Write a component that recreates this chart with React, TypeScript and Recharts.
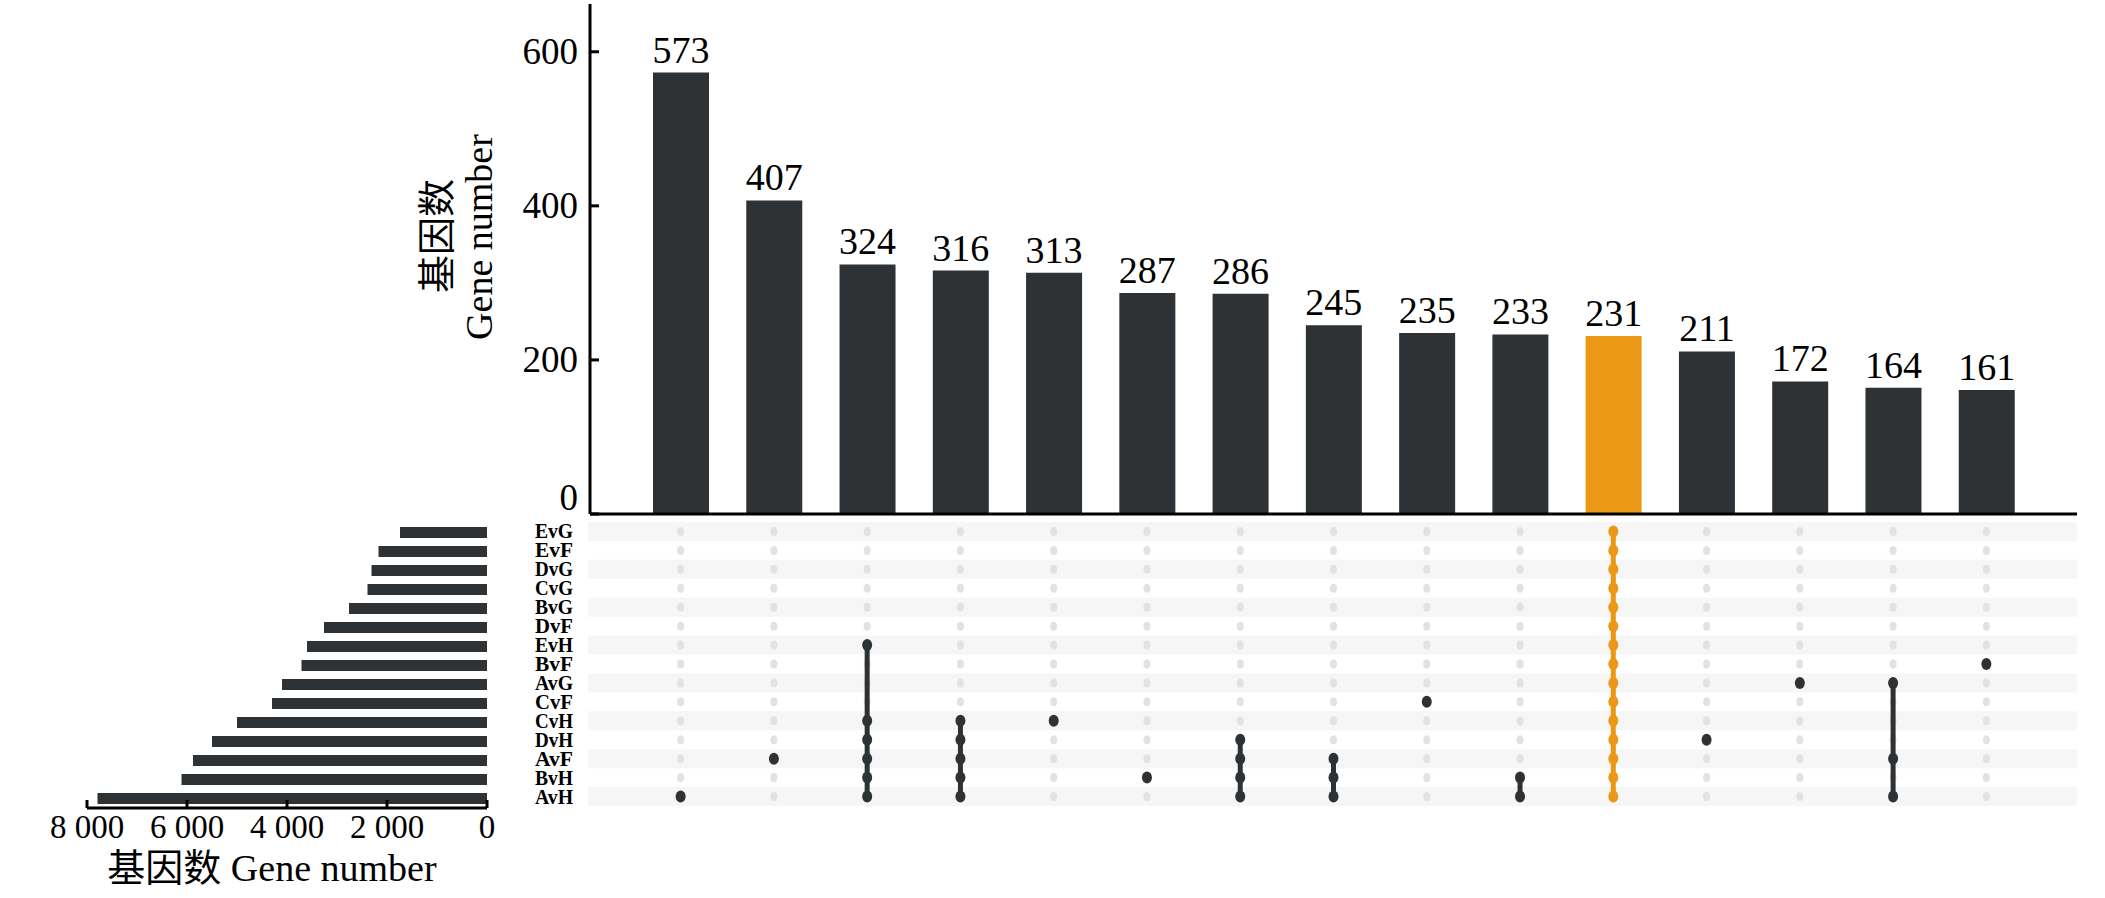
import React from 'react'
import { BarChart, Bar, XAxis, YAxis, Cell, LabelList, ScatterChart, Scatter, ReferenceArea } from 'recharts'

// sets, top to bottom in the matrix
const setNames = ['EvG', 'EvF', 'DvG', 'CvG', 'BvG', 'DvF', 'EvH', 'BvF', 'AvG', 'CvF', 'CvH', 'DvH', 'AvF', 'BvH', 'AvH']
const setSizes = [1740, 2170, 2310, 2390, 2760, 3260, 3600, 3710, 4100, 4300, 5000, 5500, 5880, 6110, 7790]
const setSizeTicks = [0, 2000, 4000, 6000, 8000]

// intersections, left to right
const intersectionSizes = [573, 407, 324, 316, 313, 287, 286, 245, 235, 233, 231, 211, 172, 164, 161]
const intersectionSets = [
  ['AvH'],
  ['AvF'],
  ['EvH', 'CvH', 'DvH', 'AvF', 'BvH', 'AvH'],
  ['CvH', 'DvH', 'AvF', 'BvH', 'AvH'],
  ['CvH'],
  ['BvH'],
  ['DvH', 'AvF', 'BvH', 'AvH'],
  ['AvF', 'BvH', 'AvH'],
  ['CvF'],
  ['BvH', 'AvH'],
  setNames,
  ['DvH'],
  ['AvG'],
  ['AvG', 'AvF', 'AvH'],
  ['BvF'],
]
const highlighted = 10
const sizeTicks = [0, 200, 400, 600]

const DARK = '#2e3235'
const ORANGE = '#ea9815'
const DOT_OFF = '#e2e2e2'
const STRIPE = '#f6f6f6'
const SERIF = '"Liberation Serif", "Noto Sans CJK SC", serif'

// layout (page px)
const PLOT_RIGHT = 2077
const TOP_AXIS_X = 590
const BAR_PAD = 44
const MATRIX_LEFT = 588

const barData = intersectionSizes.map((value, i) => ({ id: i, value }))
const setData = setNames.map((name, i) => ({ name, size: setSizes[i] }))

const band = (PLOT_RIGHT - TOP_AXIS_X - 2 * BAR_PAD) / intersectionSizes.length
const firstCenter = TOP_AXIS_X + BAR_PAD + band / 2
const matrixDomain = [
  -(firstCenter - MATRIX_LEFT) / band,
  intersectionSizes.length - 1 + (PLOT_RIGHT - (firstCenter + band * (intersectionSizes.length - 1))) / band,
]

const gridDots = setNames.flatMap((_, r) => intersectionSizes.map((_, c) => ({ x: c, y: r })))
const columnDots = intersectionSets.map((sets, c) =>
  sets.map(s => ({ x: c, y: setNames.indexOf(s) })).sort((a, b) => a.y - b.y)
)

function SizeTick({ x, y, payload }: any) {
  // the zero label sits a little higher so it clears the matrix labels
  const dy = payload.value === 0 ? -4 : 12
  return (
    <g>
      <line x1={x} x2={x + 9} y1={y} y2={y} stroke="#000" strokeWidth={3} />
      <text x={x - 12} y={y + dy} textAnchor="end" fontSize={37} fontFamily={SERIF} fill="#000">
        {payload.value}
      </text>
    </g>
  )
}

function SetSizeTick({ x, y, payload }: any) {
  const label = payload.value === 0 ? '0' : `${payload.value / 1000} 000`
  return (
    <g>
      <line x1={x} x2={x} y1={y} y2={y - 8} stroke="#000" strokeWidth={3} />
      <text x={x} y={y + 30} textAnchor="middle" fontSize={33} fontFamily={SERIF} fill="#000">
        {label}
      </text>
    </g>
  )
}

function SetNameTick({ x, y, payload }: any) {
  return (
    <text
      x={x}
      y={y + 7}
      textAnchor="end"
      fontSize={20}
      fontWeight="bold"
      fontFamily={SERIF}
      fill="#000"
      textLength={38}
      lengthAdjust="spacingAndGlyphs"
    >
      {setNames[payload.value]}
    </text>
  )
}

const dot = (rx: number, ry: number, fill: string) => (p: any) =>
  <ellipse cx={p.cx} cy={p.cy} rx={rx} ry={ry} fill={fill} />

export default function App() {
  return (
    <div style={{ position: 'absolute', left: 0, top: 0, width: 2105, height: 898, background: '#fff', overflow: 'hidden' }}>
      {/* intersection sizes */}
      <div style={{ position: 'absolute', left: 380, top: 0 }}>
        <BarChart width={1725} height={560} data={barData} margin={{ top: 4, right: 2105 - PLOT_RIGHT, bottom: 44, left: 0 }}>
          <XAxis
            dataKey="id"
            type="category"
            height={2}
            tick={false}
            tickLine={false}
            padding={{ left: BAR_PAD, right: BAR_PAD }}
            axisLine={{ stroke: '#000', strokeWidth: 3 }}
          />
          <YAxis
            width={TOP_AXIS_X - 380}
            domain={[0, 662]}
            ticks={sizeTicks}
            tickLine={false}
            tickSize={0}
            tickMargin={0}
            tick={<SizeTick />}
            axisLine={{ stroke: '#000', strokeWidth: 3 }}
            label={{
              content: () => (
                <g fontFamily={SERIF} fontSize={38} fill="#000">
                  <text x={57} y={236} textAnchor="middle" dominantBaseline="central" transform="rotate(-90 57 236)">基因数</text>
                  <text x={99} y={237} textAnchor="middle" dominantBaseline="central" transform="rotate(-90 99 237)">Gene number</text>
                </g>
              ),
            }}
          />
          <Bar dataKey="value" barSize={56} isAnimationActive={false}>
            {barData.map((d, i) => (
              <Cell key={d.id} fill={i === highlighted ? ORANGE : DARK} />
            ))}
            <LabelList
              dataKey="value"
              position="top"
              offset={10}
              fontSize={38}
              fontFamily={SERIF}
              fill="#000"
            />
          </Bar>
        </BarChart>
      </div>

      {/* membership matrix */}
      <div style={{ position: 'absolute', left: 480, top: 510 }}>
        <ScatterChart width={1625} height={306} margin={{ top: 12, right: 2105 - PLOT_RIGHT, bottom: 10, left: 0 }}>
          <XAxis type="number" dataKey="x" domain={matrixDomain} allowDataOverflow hide />
          <YAxis
            type="number"
            dataKey="y"
            width={MATRIX_LEFT - 480}
            domain={[-0.5, setNames.length - 0.5]}
            ticks={setNames.map((_, i) => i)}
            interval={0}
            reversed
            tickLine={false}
            tickSize={0}
            tickMargin={15}
            axisLine={false}
            tick={<SetNameTick />}
          />
          {setNames.map((n, r) =>
            r % 2 === 0 ? (
              <ReferenceArea key={n} y1={r - 0.5} y2={r + 0.5} fill={STRIPE} fillOpacity={1} stroke="none" />
            ) : null
          )}
          <Scatter data={gridDots} shape={dot(3.5, 4.5, DOT_OFF)} isAnimationActive={false} />
          {columnDots.map((pts, c) => {
            const color = c === highlighted ? ORANGE : DARK
            return (
              <Scatter
                key={c}
                data={pts}
                line={{ stroke: color, strokeWidth: 5 }}
                shape={dot(5, 6, color)}
                isAnimationActive={false}
              />
            )
          })}
        </ScatterChart>
      </div>

      {/* set sizes */}
      <div style={{ position: 'absolute', left: 0, top: 510 }}>
        <BarChart layout="vertical" width={500} height={388} data={setData} margin={{ top: 13, right: 13, bottom: 10, left: 87 }}>
          <XAxis
            type="number"
            domain={[0, 8000]}
            ticks={setSizeTicks}
            reversed
            height={80}
            tickLine={false}
            tickSize={0}
            tickMargin={0}
            tick={<SetSizeTick />}
            axisLine={{ stroke: '#000', strokeWidth: 3 }}
            label={{
              content: () => (
                <text x={272} y={371} textAnchor="middle" fontSize={38} fontFamily={SERIF} fill="#000">
                  基因数 Gene number
                </text>
              ),
            }}
          />
          <YAxis type="category" dataKey="name" hide />
          <Bar dataKey="size" barSize={11} fill={DARK} isAnimationActive={false} />
        </BarChart>
      </div>
    </div>
  )
}
